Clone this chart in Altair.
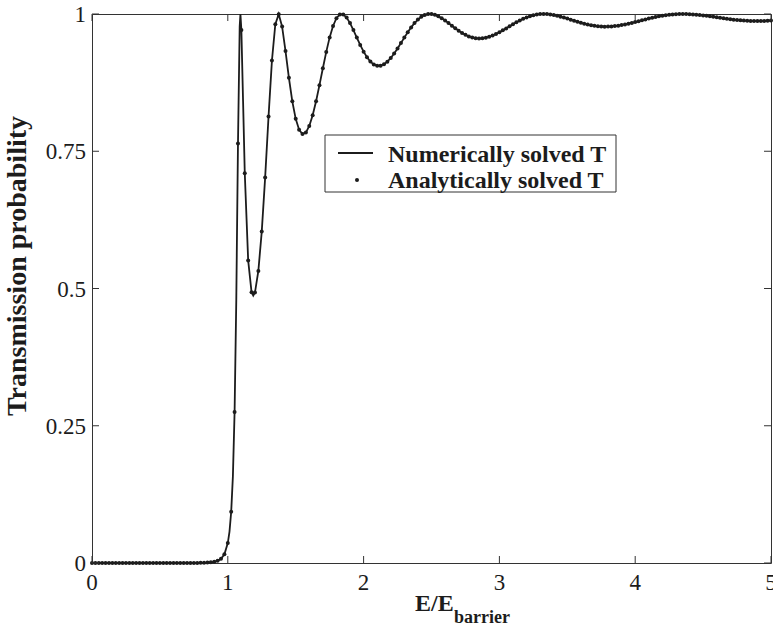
import altair as alt
import numpy as np
import pandas as pd

# Transmission probability through a rectangular barrier, sampled every 0.025 in E/E_barrier
step = 0.025

# below the barrier top (E/E_barrier = 0 ... 1.0)
t_below = [
    0.0, 0.0, 0.0, 0.0, 0.0, 0.0, 0.0, 0.0, 0.0, 0.0,
    0.0, 0.0, 0.0, 0.0, 0.0, 0.0, 0.0, 0.0, 0.0, 0.0,
    0.0, 0.0, 0.0, 0.0, 0.0, 0.0, 0.0, 0.0, 0.0, 0.0001,
    0.0001, 0.0002, 0.0003, 0.0004, 0.0007, 0.0012, 0.0021, 0.0040, 0.0077, 0.0160,
    0.0363,
]

# above the barrier (E/E_barrier = 1.025 ... 5.0)
t_above = [
    0.0933, 0.2752, 0.7643, 0.9707, 0.7100, 0.5512, 0.4931, 0.4926, 0.5320, 0.6037,
    0.7020, 0.8133, 0.9151, 0.9815, 0.9997, 0.9771, 0.9326, 0.8837, 0.8409, 0.8091,
    0.7893, 0.7812, 0.7840, 0.7960, 0.8155, 0.8411, 0.8704, 0.9012, 0.9310, 0.9574,
    0.9782, 0.9924, 0.9992, 0.9992, 0.9934, 0.9834, 0.9708, 0.9571, 0.9436, 0.9314,
    0.9211, 0.9133, 0.9081, 0.9056, 0.9058, 0.9084, 0.9132, 0.9199, 0.9281, 0.9372,
    0.9471, 0.9570, 0.9667, 0.9756, 0.9834, 0.9899, 0.9948, 0.9981, 0.9998, 0.9998,
    0.9985, 0.9959, 0.9924, 0.9882, 0.9835, 0.9787, 0.9740, 0.9695, 0.9655, 0.9620,
    0.9592, 0.9572, 0.9559, 0.9554, 0.9557, 0.9568, 0.9585, 0.9607, 0.9635, 0.9667,
    0.9702, 0.9738, 0.9776, 0.9813, 0.9849, 0.9882, 0.9912, 0.9938, 0.9961, 0.9978,
    0.9990, 0.9998, 1.0000, 0.9998, 0.9992, 0.9981, 0.9968, 0.9952, 0.9935, 0.9916,
    0.9896, 0.9876, 0.9857, 0.9839, 0.9822, 0.9807, 0.9795, 0.9785, 0.9777, 0.9772,
    0.9770, 0.9771, 0.9774, 0.9780, 0.9788, 0.9798, 0.9810, 0.9823, 0.9837, 0.9853,
    0.9869, 0.9885, 0.9901, 0.9916, 0.9931, 0.9945, 0.9957, 0.9969, 0.9978, 0.9986,
    0.9992, 0.9997, 0.9999, 1.0000, 0.9999, 0.9997, 0.9993, 0.9987, 0.9981, 0.9974,
    0.9966, 0.9957, 0.9948, 0.9939, 0.9930, 0.9921, 0.9912, 0.9904, 0.9897, 0.9890,
    0.9885, 0.9880, 0.9876, 0.9874, 0.9872, 0.9872, 0.9872, 0.9874, 0.9877, 0.9880,
]

# the numerical solution is resolved more finely around the first resonance
fine_E = [1.0125, 1.0375, 1.0625, 1.0875, 1.093, 1.1125, 1.1875]
fine_T = [0.0572, 0.1578, 0.4797, 0.9770, 1.0000, 0.8407, 0.4872]

x_ticks = [0, 1, 2, 3, 4, 5]
y_ticks = [0, 0.25, 0.5, 0.75, 1]
legend_labels = ["Numerically solved T", "Analytically solved T"]
y_title = "Transmission probability"
x_title_main = "E/E"
x_title_sub = "barrier"

t_vals = t_below + t_above
energy = np.round(np.arange(len(t_vals)) * step, 4)
analytic = pd.DataFrame({"E": energy, "T": t_vals})
numeric = pd.concat(
    [analytic, pd.DataFrame({"E": fine_E, "T": fine_T})], ignore_index=True
).sort_values("E")

W, H = 679, 549
INK = "#1c1c1c"
FONT = "Liberation Serif"

xs = alt.Scale(domain=[0, 5], nice=False, zero=False)
ys = alt.Scale(domain=[0, 1], nice=False, zero=False)

curve = alt.Chart(numeric).mark_line(color=INK, strokeWidth=1.8).encode(
    x=alt.X("E:Q", scale=xs, axis=None),
    y=alt.Y("T:Q", scale=ys, axis=None),
    order="E:Q",
)

dots = alt.Chart(analytic).mark_circle(color=INK, size=16, opacity=1).encode(
    x=alt.X("E:Q", scale=xs, axis=None),
    y=alt.Y("T:Q", scale=ys, axis=None),
)

# inward tick marks on all four sides of the box
xt = alt.Chart(pd.DataFrame({"E": x_ticks}))
yt = alt.Chart(pd.DataFrame({"T": y_ticks}))
tick_style = dict(color="#333333", strokeWidth=1)
ticks_bottom = xt.mark_rule(**tick_style).encode(
    x=alt.X("E:Q", scale=xs, axis=None), y=alt.value(H), y2=alt.value(H - 7))
ticks_top = xt.mark_rule(**tick_style).encode(
    x=alt.X("E:Q", scale=xs, axis=None), y=alt.value(0), y2=alt.value(7))
ticks_left = yt.mark_rule(**tick_style).encode(
    y=alt.Y("T:Q", scale=ys, axis=None), x=alt.value(0), x2=alt.value(7))
ticks_right = yt.mark_rule(**tick_style).encode(
    y=alt.Y("T:Q", scale=ys, axis=None), x=alt.value(W), x2=alt.value(W - 7))

# tick labels
x_labels = xt.mark_text(font=FONT, fontSize=23, color=INK, align="center",
                        baseline="alphabetic").encode(
    x=alt.X("E:Q", scale=xs, axis=None), y=alt.value(H + 27),
    text=alt.Text("E:Q", format=".2~f"))
y_labels = yt.mark_text(font=FONT, fontSize=23, color=INK, align="right",
                        baseline="middle", dy=1).encode(
    y=alt.Y("T:Q", scale=ys, axis=None), x=alt.value(-6),
    text=alt.Text("T:Q", format=".2~f"))

one = alt.Chart(pd.DataFrame({"k": [0]}))

# axis titles
y_label = one.mark_text(text=y_title, font=FONT, fontSize=28, fontWeight="bold",
                        color=INK, angle=270, align="center", baseline="middle").encode(
    x=alt.value(-74), y=alt.value(252))
x_label_main = one.mark_text(text=x_title_main, font=FONT, fontSize=24, fontWeight="bold",
                             color=INK, align="left", baseline="alphabetic").encode(
    x=alt.value(323), y=alt.value(597))
x_label_sub = one.mark_text(text=x_title_sub, font=FONT, fontSize=18, fontWeight="bold",
                            color=INK, align="left", baseline="alphabetic").encode(
    x=alt.value(362), y=alt.value(609))

# legend box
leg_box = one.mark_rect(fill="white", stroke="#333333", strokeWidth=1).encode(
    x=alt.value(233), x2=alt.value(524), y=alt.value(121), y2=alt.value(178))
leg_line = one.mark_rule(color=INK, strokeWidth=1.8).encode(
    x=alt.value(246), x2=alt.value(281), y=alt.value(139))
leg_dot = one.mark_circle(color=INK, size=16, opacity=1).encode(
    x=alt.value(265), y=alt.value(166))
leg_text1 = one.mark_text(text=legend_labels[0], font=FONT, fontSize=24, fontWeight="bold",
                          color=INK, align="left", baseline="alphabetic").encode(
    x=alt.value(296), y=alt.value(148))
leg_text2 = one.mark_text(text=legend_labels[1], font=FONT, fontSize=24, fontWeight="bold",
                          color=INK, align="left", baseline="alphabetic").encode(
    x=alt.value(296), y=alt.value(174))

chart = alt.layer(
    curve, dots,
    ticks_bottom, ticks_top, ticks_left, ticks_right,
    x_labels, y_labels,
    leg_box, leg_line, leg_dot, leg_text1, leg_text2,
    y_label, x_label_main, x_label_sub,
).properties(
    width=W, height=H,
    autosize=alt.AutoSizeParams(type="none"),
    padding={"left": 92, "top": 14, "right": 2, "bottom": 65},
    background="white",
).configure_view(
    stroke="#333333", strokeWidth=1,
)

chart.save("out.html", embed_options={"renderer": "svg", "actions": False})
